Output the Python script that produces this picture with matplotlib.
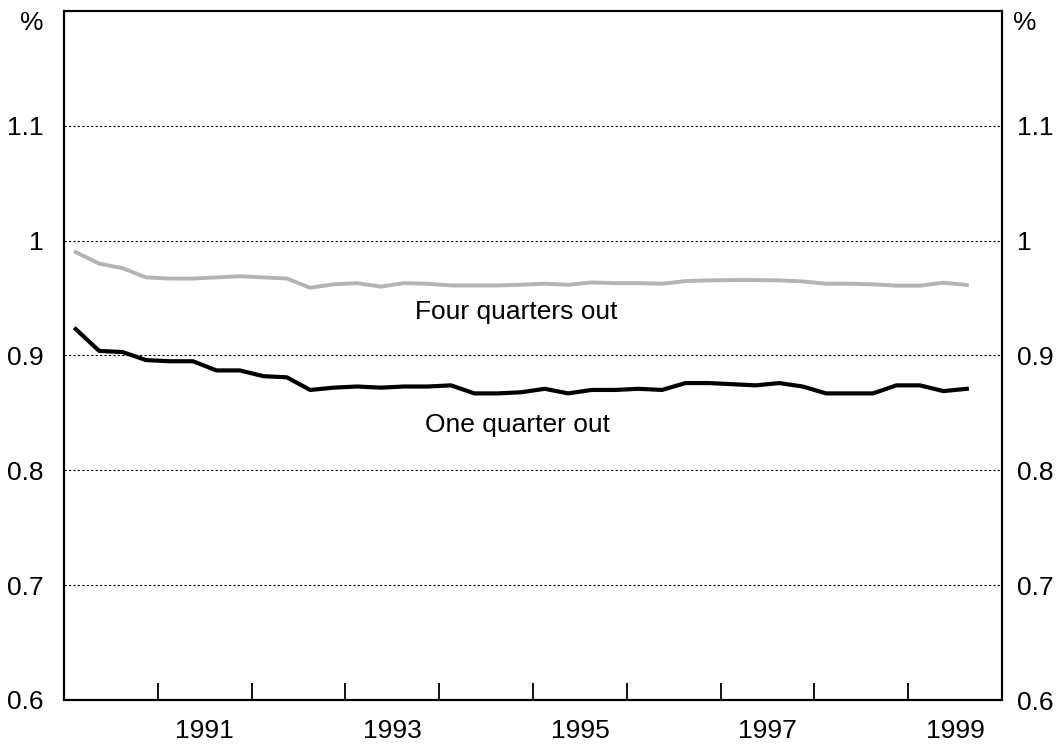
import numpy as np
import matplotlib
matplotlib.use("Agg")
import matplotlib.pyplot as plt
from matplotlib.ticker import FixedLocator, NullFormatter

plt.rcParams['font.family'] = ['Liberation Sans', 'DejaVu Sans']

# quarterly observations, 1990 Q1 to 1999 Q3
start_year = 1990
four_quarters = [0.990, 0.980, 0.976, 0.968, 0.967, 0.967, 0.968, 0.969, 0.968, 0.967,
                 0.959, 0.962, 0.963, 0.960, 0.963, 0.9625, 0.961, 0.961, 0.961, 0.9616,
                 0.9625, 0.9616, 0.9636, 0.963, 0.963, 0.9625, 0.9648, 0.9654, 0.9657, 0.9657,
                 0.9654, 0.9645, 0.9625, 0.9625, 0.962, 0.9608, 0.9608, 0.9634, 0.9614]
one_quarter = [0.923, 0.904, 0.903, 0.896, 0.895, 0.895, 0.887, 0.887, 0.882, 0.881,
               0.870, 0.872, 0.873, 0.872, 0.873, 0.873, 0.874, 0.867, 0.867, 0.868,
               0.871, 0.867, 0.870, 0.870, 0.871, 0.870, 0.876, 0.876, 0.875, 0.874,
               0.876, 0.873, 0.867, 0.867, 0.867, 0.874, 0.874, 0.869, 0.871]

year_labels = ['1991', '1993', '1995', '1997', '1999']
y_ticks = [0.6, 0.7, 0.8, 0.9, 1.0, 1.1]
y_ticklabels = ['0.6', '0.7', '0.8', '0.9', '1', '1.1']

fs = 19

n = len(one_quarter)
t = start_year + (np.arange(n) + 0.5) / 4.0

fig = plt.figure(figsize=(10.60, 7.46), dpi=100)
ax = fig.add_axes([64 / 1060, 1 - 700 / 746, (1002 - 64) / 1060, (700 - 11) / 746])

for yv in y_ticks[1:]:
    ax.axhline(yv, color='black', lw=0.8, ls=(0, (2, 2)), zorder=1)

ax.plot(t, four_quarters, color='#b4b4b4', lw=2.8, solid_joinstyle='round', zorder=3)
ax.plot(t, one_quarter, color='black', lw=3.0, solid_joinstyle='round', zorder=3)

ax.set_xlim(1990, 2000)
ax.set_ylim(0.6, 1.2)

# year boundary ticks, labels at mid-year
ax.xaxis.set_major_locator(FixedLocator(np.arange(1991, 2000)))
ax.xaxis.set_major_formatter(NullFormatter())
ax.tick_params(axis='x', which='major', direction='in', length=12, width=1.3)
ax.set_xticks([int(y) + 0.5 for y in year_labels], minor=True)
ax.set_xticklabels(year_labels, minor=True, fontsize=fs)
ax.tick_params(axis='x', which='minor', length=0, pad=14)

ax.set_yticks(y_ticks)
ax.set_yticklabels(y_ticklabels, fontsize=fs)
ax.tick_params(axis='y', length=0, pad=14.5)

ax2 = ax.twinx()
ax2.set_ylim(0.6, 1.2)
ax2.set_yticks(y_ticks)
ax2.set_yticklabels(y_ticklabels, fontsize=fs)
ax2.tick_params(axis='y', length=0, pad=11)

for a in (ax, ax2):
    for sp in a.spines.values():
        sp.set_linewidth(1.5)

ax.text(-0.034, 0.9826, '%', transform=ax.transAxes, ha='center', va='center', fontsize=fs)
ax.text(1.0117, 0.9826, '%', transform=ax.transAxes, ha='left', va='center', fontsize=fs)

ax.text(1994.82, 0.938, 'Four quarters out', ha='center', va='center', fontsize=fs)
ax.text(1994.83, 0.8395, 'One quarter out', ha='center', va='center', fontsize=fs)

fig.savefig('out.png', dpi=100)
